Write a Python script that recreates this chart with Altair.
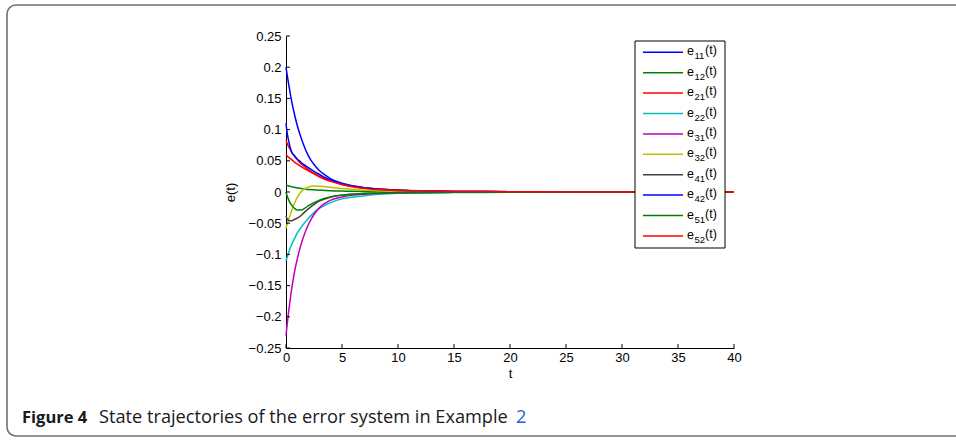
import altair as alt
import pandas as pd

# ---------------- data ----------------
T = [0, 0.1, 0.2, 0.35, 0.5, 0.75, 1, 1.25, 1.5, 2, 2.5, 3, 3.5, 4, 5, 6, 7, 8, 10, 12, 15, 20, 25, 30, 35, 40]

e11 = [0.200, 0.188, 0.177, 0.161, 0.146, 0.125, 0.107, 0.092, 0.079, 0.058, 0.044, 0.034, 0.027, 0.021, 0.014, 0.010, 0.007, 0.005, 0.003, 0.002, 0.001, 0.0005, 0.0002, 0.0001, 0.0, 0.0]
e12 = [0.011, 0.0105, 0.010, 0.009, 0.0085, 0.0075, 0.0065, 0.006, 0.005, 0.004, 0.0035, 0.003, 0.0025, 0.002, 0.0015, 0.0012, 0.001, 0.0008, 0.0006, 0.0004, 0.0003, 0.0002, 0.0001, 0.0001, 0.0, 0.0]
e21 = [0.083, 0.078, 0.074, 0.069, 0.064, 0.058, 0.052, 0.047, 0.043, 0.036, 0.030, 0.025, 0.021, 0.018, 0.012, 0.009, 0.006, 0.005, 0.003, 0.002, 0.001, 0.0005, 0.0002, 0.0001, 0.0, 0.0]
e22 = [-0.110, -0.105, -0.099, -0.091, -0.084, -0.075, -0.066, -0.059, -0.053, -0.042, -0.033, -0.026, -0.021, -0.017, -0.011, -0.008, -0.006, -0.004, -0.002, -0.0015, -0.001, -0.0005, -0.0002, -0.0001, 0.0, 0.0]
e31 = [-0.230, -0.213, -0.197, -0.176, -0.156, -0.129, -0.108, -0.090, -0.075, -0.052, -0.036, -0.025, -0.018, -0.013, -0.008, -0.005, -0.0035, -0.0025, -0.0015, -0.001, -0.0006, -0.0003, -0.0001, 0.0, 0.0, 0.0]
e32 = [-0.058, -0.052, -0.046, -0.038, -0.030, -0.018, -0.009, -0.002, 0.003, 0.008, 0.0096, 0.0094, 0.0085, 0.0075, 0.0055, 0.004, 0.003, 0.002, 0.001, 0.0006, 0.0003, 0.0001, 0.0, 0.0, 0.0, 0.0]
e41 = [-0.038, -0.043, -0.045, -0.046, -0.046, -0.044, -0.042, -0.039, -0.035, -0.027, -0.020, -0.014, -0.011, -0.008, -0.005, -0.0035, -0.0025, -0.002, -0.001, -0.0007, -0.0004, -0.0002, -0.0001, 0.0, 0.0, 0.0]
e42 = [0.110, 0.095, 0.085, 0.073, 0.064, 0.058, 0.053, 0.049, 0.045, 0.039, 0.033, 0.028, 0.023, 0.019, 0.013, 0.009, 0.007, 0.005, 0.003, 0.002, 0.001, 0.0005, 0.0002, 0.0001, 0.0, 0.0]
e51 = [0.0, -0.006, -0.011, -0.017, -0.021, -0.026, -0.029, -0.029, -0.028, -0.022, -0.017, -0.013, -0.010, -0.008, -0.005, -0.0035, -0.0025, -0.002, -0.001, -0.0007, -0.0004, -0.0002, -0.0001, 0.0, 0.0, 0.0]
e52 = [0.060, 0.058, 0.056, 0.054, 0.052, 0.048, 0.045, 0.042, 0.039, 0.034, 0.029, 0.024, 0.020, 0.017, 0.012, 0.008, 0.006, 0.004, 0.003, 0.002, 0.001, 0.0005, 0.0002, 0.0001, 0.0, 0.0]

series_names = ["e11", "e12", "e21", "e22", "e31", "e32", "e41", "e42", "e51", "e52"]
series_subs = ["11", "12", "21", "22", "31", "32", "41", "42", "51", "52"]
series_values = [e11, e12, e21, e22, e31, e32, e41, e42, e51, e52]
series_colors = ["#0000ff", "#008000", "#ff0000", "#00bfbf", "#bf00bf",
                 "#bfbf00", "#404040", "#0000ff", "#008000", "#ff0000"]

x_ticks = [0, 5, 10, 15, 20, 25, 30, 35, 40]
y_ticks = [0.25, 0.2, 0.15, 0.1, 0.05, 0, -0.05, -0.1, -0.15, -0.2, -0.25]

caption_bold = "Figure 4"
caption_text = "State trajectories of the error system in Example"
caption_ref = "2"

# ---------------- tables ----------------
rows = []
for k, (name, vals) in enumerate(zip(series_names, series_values)):
    for t, v in zip(T, vals):
        rows.append({"t": t, "e": v, "series": name, "k": k})
df = pd.DataFrame(rows)

leg = pd.DataFrame({"idx": list(range(len(series_names))),
                    "sub": series_subs, "color": series_colors})

W, H = 448, 312
PL, PT = 286, 36
FONT = "Liberation Sans"

xs = alt.Scale(domain=[0, 40], nice=False, zero=False)
ys = alt.Scale(domain=[-0.25, 0.25], nice=False, zero=False)
x_axis = alt.Axis(values=x_ticks, format="~f", labelPadding=3, titlePadding=3,
                  labelOverlap=False, labelFlush=False, title="t",
                  labelFontSize=13, titleFontSize=13)
y_axis = alt.Axis(values=y_ticks, format="~f", labelPadding=5, titlePadding=11,
                  labelOverlap=False, labelFlush=False, title="e(t)",
                  labelFontSize=13, titleFontSize=13)

lines = alt.Chart(df).mark_line(strokeWidth=1.5, interpolate="monotone").encode(
    x=alt.X("t:Q", scale=xs, axis=x_axis, title="t"),
    y=alt.Y("e:Q", scale=ys, axis=y_axis, title="e(t)"),
    color=alt.Color("series:N", scale=alt.Scale(domain=series_names, range=series_colors),
                    legend=None),
    detail="k:O",
)

ytick_df = pd.DataFrame({"v": y_ticks})
xtick_df = pd.DataFrame({"v": x_ticks})
yt = alt.Chart(ytick_df).mark_rule(color="black", strokeWidth=1).encode(
    y=alt.Y("v:Q", scale=ys, axis=y_axis, title="e(t)"), x=alt.value(0), x2=alt.value(4))
xt = alt.Chart(xtick_df).mark_rule(color="black", strokeWidth=1).encode(
    x=alt.X("v:Q", scale=xs, axis=x_axis, title="t"), y=alt.value(H), y2=alt.value(H - 4))

# ---- legend box (manual, to get MATLAB-style subscripts) ----
LX0, LX1, LY0, LY1 = 635 - PL, 725 - PL, 41 - PT, 248 - PT
leg_box = alt.Chart(pd.DataFrame({"a": [0]})).mark_rect(
    fill="white", stroke="black", strokeWidth=1).encode(
    x=alt.value(LX0), x2=alt.value(LX1), y=alt.value(LY0), y2=alt.value(LY1))

legbase = alt.Chart(leg).transform_calculate(
    py=f"{52.3 - PT} + datum.idx * 20.4")
leg_lines = legbase.mark_rule(strokeWidth=1.5).encode(
    x=alt.value(643 - PL), x2=alt.value(683 - PL),
    y=alt.Y("py:Q", scale=None), color=alt.Color("color:N", scale=None))
leg_e = legbase.mark_text(align="left", baseline="middle", font=FONT, fontSize=12.5,
                          color="black", dy=-1).encode(
    x=alt.value(687 - PL), y=alt.Y("py:Q", scale=None), text=alt.value("e"))
leg_sub = legbase.mark_text(align="left", baseline="middle", font=FONT, fontSize=9.5,
                            color="black", dy=4).encode(
    x=alt.value(694.5 - PL), y=alt.Y("py:Q", scale=None), text="sub:N")
leg_t = legbase.mark_text(align="left", baseline="middle", font=FONT, fontSize=12.5,
                          color="black", dy=-2).encode(
    x=alt.value(705 - PL), y=alt.Y("py:Q", scale=None), text=alt.value("(t)"))

# ---- figure frame and caption ----
frame = alt.Chart(pd.DataFrame({"a": [0]})).mark_rect(
    fill=None, stroke="#707070", strokeWidth=1.6, cornerRadius=9).encode(
    x=alt.value(7 - PL), x2=alt.value(990 - PL), y=alt.value(5 - PT), y2=alt.value(436 - PT))

cap_y = 418 - PT
cap1 = alt.Chart(pd.DataFrame({"a": [0]})).mark_text(
    align="left", baseline="middle", font="Open Sans", fontSize=16.5, fontWeight="bold",
    color="#1a1a1a").encode(x=alt.value(22 - PL), y=alt.value(cap_y), text=alt.value(caption_bold))
cap2 = alt.Chart(pd.DataFrame({"a": [0]})).mark_text(
    align="left", baseline="middle", font="Open Sans", fontSize=18.2,
    color="#1a1a1a").encode(x=alt.value(99 - PL), y=alt.value(cap_y), text=alt.value(caption_text))
cap3 = alt.Chart(pd.DataFrame({"a": [0]})).mark_text(
    align="left", baseline="middle", font="Open Sans", fontSize=18.2,
    color="#2a62c9").encode(x=alt.value(516 - PL), y=alt.value(cap_y), text=alt.value(caption_ref))

chart = alt.layer(
    frame, lines, yt, xt, leg_box, leg_lines, leg_e, leg_sub, leg_t, cap1, cap2, cap3
).properties(
    width=W, height=H,
    autosize=alt.AutoSizeParams(type="none"),
    padding={"left": PL, "top": PT, "right": 956 - PL - W, "bottom": 441 - PT - H},
    background="white",
).configure_view(stroke=None).configure_axis(
    grid=False, domainColor="black", domainWidth=1, tickSize=0, labelOverlap=False,
    labelFont=FONT, labelColor="black",
    titleFont=FONT, titleColor="black", titleFontWeight="normal",
)

chart.save("out.html", embed_options={"renderer": "svg", "actions": False})
